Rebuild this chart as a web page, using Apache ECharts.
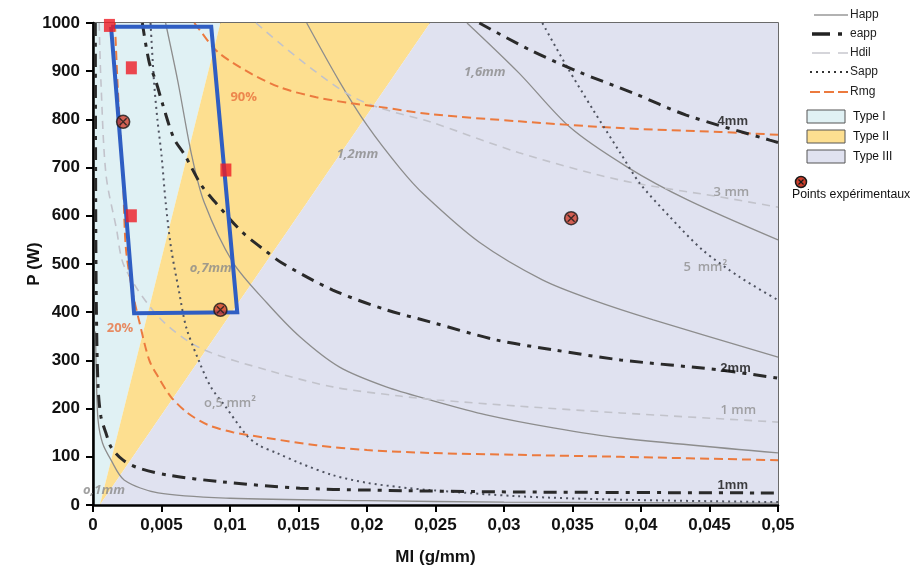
<!DOCTYPE html>
<html><head><meta charset="utf-8">
<script src="https://cdn.jsdelivr.net/npm/echarts@6/dist/echarts.min.js"></script>
<style>html,body{margin:0;padding:0;background:#fff}#c{width:914px;height:572px}</style>
</head><body><div id="c"></div>
<script>
// ---------- Data (Ml in g/mm, P in W) ----------
const regionTypeI   = [[0,0],[0,1000],[0.0093,1000],[0.0005,0]];
const regionTypeII  = [[0.0005,0],[0.0093,1000],[0.0246,1000]];
const regionTypeIII = [[0.0005,0],[0.0246,1000],[0.05,1000],[0.05,0]];

// Happ (solid gray)
const happ01 = [[0.00018,360],[0.00025,260],[0.00037,176],[0.0007,128],[0.00132,93],[0.00227,52],[0.00475,25],[0.01,14],[0.02,9],[0.03,6],[0.05,4]];
const happ07 = [[0.0053,1000],[0.0062,878],[0.0072,726],[0.0081,629],[0.0102,504],[0.0127,419],[0.0151,349],[0.018,286],[0.0214,245],[0.0246,218],[0.0287,187],[0.0336,160],[0.0385,139],[0.05,108]];
const happ12 = [[0.0156,1000],[0.018,878],[0.02,788],[0.0224,699],[0.0242,643],[0.0282,545],[0.0328,467],[0.0365,425],[0.0409,384],[0.05,307]];
const happ16 = [[0.0273,1000],[0.0311,896],[0.0348,784],[0.039,701],[0.0434,633],[0.05,550]];
// eapp (black dash-dot)
const eapp1 = [[0.00017,1000],[0.0002,600],[0.00025,400],[0.00037,245],[0.00058,183],[0.00095,149],[0.00132,120],[0.0022,93],[0.0033,77],[0.0055,62],[0.0094,48],[0.0151,35],[0.02,31],[0.0311,27],[0.05,25]];
const eapp2 = [[0.0036,1000],[0.0041,919],[0.0046,878],[0.0051,830],[0.0059,761],[0.0067,726],[0.0079,664],[0.0089,629],[0.0109,566],[0.0127,525],[0.0138,502],[0.0175,446],[0.0214,405],[0.0246,380],[0.0295,342],[0.0336,322],[0.0385,301],[0.0458,280],[0.05,263]];
const eapp4 = [[0.0282,1000],[0.0319,944],[0.0355,898],[0.0394,855],[0.0433,809],[0.0494,757],[0.05,752]];
// Hdil (light gray dashed)
const hdil1 = [[0.00045,1000],[0.00058,878],[0.00095,685],[0.0017,575],[0.0023,494],[0.0048,390],[0.0078,326],[0.0127,280],[0.0175,245],[0.0224,226],[0.0251,218],[0.0311,205],[0.0385,191],[0.05,172]];
const hdil3 = [[0.0119,1000],[0.0138,954],[0.0163,898],[0.0187,851],[0.0209,824],[0.0246,795],[0.0311,731],[0.0385,674],[0.0458,639],[0.05,618]];
// Sapp (dotted)
const sapp05 = [[0.0042,1000],[0.00445,880],[0.0047,800],[0.005,726],[0.0053,629],[0.0057,533],[0.0063,440],[0.0068,369],[0.0077,301],[0.0086,245],[0.0097,203],[0.0112,145],[0.0121,124],[0.0134,108],[0.0151,87],[0.0175,62],[0.02,46],[0.0224,37],[0.0246,31],[0.0311,18],[0.0385,11],[0.05,6]];
const sapp5 = [[0.0328,1000],[0.0346,909],[0.0365,820],[0.0385,730],[0.0399,668],[0.0421,598],[0.0445,529],[0.0472,473],[0.05,425]];
// Rmg (orange dashed)
const rmg20 = [[0.0016,1000],[0.0018,870],[0.00205,746],[0.0022,670],[0.0024,533],[0.0029,440],[0.0034,378],[0.0041,301],[0.00475,266],[0.0057,224],[0.0069,191],[0.0084,166],[0.0102,151],[0.0127,139],[0.0163,124],[0.02,114],[0.0246,108],[0.0311,104],[0.0385,100],[0.05,93]];
const rmg90 = [[0.0074,1000],[0.0078,985],[0.0091,940],[0.0116,894],[0.0138,865],[0.0163,846],[0.0187,834],[0.0209,826],[0.0246,811],[0.0311,796],[0.0385,782],[0.0458,774],[0.05,768]];

// Experimental points and samples
const expPoints = [[0.0022,795],[0.0093,405],[0.0349,595]];
const redSquares = [[0.0012,995],[0.0028,907],[0.0097,695],[0.0028,600]];
const blueBox = [[0.00132,992],[0.00863,992],[0.01053,400],[0.003,398],[0.00132,992]];

// Curve annotations
const labelsGrayItalic = [[0.0008,31,'o,1mm'],[0.0086,492,'o,7mm'],[0.0193,728,'1,2mm'],[0.0286,898,'1,6mm']];
const labelsGray = [[0.0466,649,'3 mm'],[0.0447,494,'5  mm²'],[0.0471,197,'1 mm'],[0.01,210,'o,5 mm²']];
const labelsBlack = [[0.0467,795,'4mm'],[0.0469,284,'2mm'],[0.0467,41,'1mm']];
const labelsOrange = [[0.011,846,'90%'],[0.00197,367,'20%']];

// ---------- Styles ----------
const C_I = '#e0f1f4', C_II = '#fddf90', C_III = '#e0e2f0';
const C_HAPP = '#8d8d8d', C_EAPP = '#2a2a2a', C_HDIL = '#c2c3cb', C_SAPP = '#4f5360', C_RMG = '#ec7a3e';

function region(data, color) {
  return {
    type: 'custom', z: 0, silent: true, clip: true, data: data,
    renderItem: function (params, api) {
      if (params.dataIndex !== 0) return null;
      const pts = data.map(p => api.coord(p));
      return { type: 'polygon', shape: { points: pts }, style: { fill: color } };
    }
  };
}
function curve(data, color, width, type, z) {
  return { type: 'line', data: data, smooth: 0.3, showSymbol: false, silent: true, z: z || 3,
    lineStyle: { color: color, width: width, type: type, cap: 'butt' } };
}
function labels(data, color, font) {
  return { type: 'scatter', data: data, symbolSize: 0, silent: true, z: 8,
    label: Object.assign({ show: true, position: 'inside', color: color, formatter: p => p.data[2] }, font) };
}

const chart = echarts.init(document.getElementById('c'), null, { renderer: 'canvas' });
const axisFont = { fontFamily: '"Liberation Sans", Arial, sans-serif', fontWeight: 'bold', fontSize: 17, color: '#111' };
const legendFont = '12px "Liberation Sans", Arial';

chart.setOption({
  animation: false,
  backgroundColor: '#fff',
  grid: { left: 93, right: 136, top: 23, bottom: 67, show: true, borderColor: '#3a3a3a', borderWidth: 1.5, outerBoundsMode: 'none' },
  xAxis: {
    type: 'value', min: 0, max: 0.05, interval: 0.005,
    name: 'Ml (g/mm)', nameLocation: 'middle', nameGap: 44, nameMoveOverlap: false,
    nameTextStyle: axisFont,
    axisLine: { show: true, onZero: false, lineStyle: { color: '#000', width: 2.5 } },
    axisTick: { show: true, inside: false, length: 7, lineStyle: { color: '#000', width: 2 } },
    axisLabel: Object.assign({ margin: 12, formatter: v => v === 0 ? '0' : String(parseFloat(v.toFixed(3))).replace('.', ',') }, axisFont),
    splitLine: { show: false }
  },
  yAxis: {
    type: 'value', min: 0, max: 1000, interval: 100,
    name: 'P (W)', nameLocation: 'middle', nameGap: 50, nameRotate: 90, nameMoveOverlap: false,
    nameTextStyle: axisFont,
    axisLine: { show: true, onZero: false, lineStyle: { color: '#000', width: 2.5 } },
    axisTick: { show: true, inside: false, length: 7, lineStyle: { color: '#000', width: 2 } },
    axisLabel: Object.assign({ margin: 13, formatter: v => String(v) }, axisFont),
    splitLine: { show: false }
  },
  series: [
    region(regionTypeI, C_I),
    region(regionTypeII, C_II),
    region(regionTypeIII, C_III),
    curve(happ01, C_HAPP, 1.3, 'solid'),
    curve(happ07, C_HAPP, 1.3, 'solid'),
    curve(happ12, C_HAPP, 1.3, 'solid'),
    curve(happ16, C_HAPP, 1.3, 'solid'),
    curve(hdil1, C_HDIL, 1.6, [8, 6]),
    curve(hdil3, C_HDIL, 1.6, [8, 6]),
    curve(rmg20, C_RMG, 2, [9, 5]),
    curve(rmg90, C_RMG, 2, [9, 5]),
    curve(sapp05, C_SAPP, 2, [2, 4]),
    curve(sapp5, C_SAPP, 2, [2, 4]),
    curve(eapp1, C_EAPP, 3, [13, 7, 4, 7], 4),
    curve(eapp2, C_EAPP, 3, [13, 7, 4, 7], 4),
    curve(eapp4, C_EAPP, 3, [13, 7, 4, 7], 4),
    { type: 'line', data: blueBox, smooth: false, showSymbol: false, silent: true, z: 5,
      lineStyle: { color: '#2f5ec3', width: 4, join: 'miter' } },
    { type: 'scatter', data: redSquares, symbol: 'rect', symbolSize: [11, 13], silent: true, z: 6,
      itemStyle: { color: '#ee1c24' } },
    { type: 'scatter', data: expPoints, symbol: 'circle', symbolSize: 13, silent: true, z: 6,
      itemStyle: { color: '#cf3f2c', borderColor: '#1a1a1a', borderWidth: 1.6 } },
    { type: 'scatter', data: expPoints, symbol: 'path://M0,0L10,10M10,0L0,10', symbolSize: 7, silent: true, z: 7,
      itemStyle: { color: 'none', borderColor: '#1a1a1a', borderWidth: 1.4 } },
    labels(labelsGrayItalic, '#8a8a8a', { fontFamily: '"Open Sans", sans-serif', fontStyle: 'italic', fontWeight: 'bold', fontSize: 13 }),
    labels(labelsGray, '#8f8f8f', { fontFamily: '"Open Sans", sans-serif', fontWeight: 600, fontSize: 13 }),
    labels(labelsBlack, '#111', { fontFamily: '"Liberation Sans", Arial, sans-serif', fontWeight: 'bold', fontSize: 13 }),
    labels(labelsOrange, '#e8703c', { fontFamily: '"Open Sans", sans-serif', fontWeight: 'bold', fontSize: 13 })
  ],
  graphic: [
    // legend lines
    { type: 'line', shape: { x1: 814, y1: 15, x2: 848, y2: 15 }, style: { stroke: '#999', lineWidth: 1.3 } },
    { type: 'line', shape: { x1: 812, y1: 34, x2: 848, y2: 34 }, style: { stroke: '#222', lineWidth: 3.5, lineDash: [18, 8, 4, 8] } },
    { type: 'line', shape: { x1: 812, y1: 53, x2: 848, y2: 53 }, style: { stroke: '#c8c8ce', lineWidth: 1.5, lineDash: [18, 8] } },
    { type: 'line', shape: { x1: 810, y1: 72, x2: 848, y2: 72 }, style: { stroke: '#333', lineWidth: 2, lineDash: [2, 4] } },
    { type: 'line', shape: { x1: 810, y1: 92, x2: 848, y2: 92 }, style: { stroke: '#ec7a3e', lineWidth: 2, lineDash: [10, 4] } },
    { type: 'text', x: 850, y: 15, style: { text: 'Happ', fill: '#222', font: legendFont, verticalAlign: 'middle' } },
    { type: 'text', x: 850, y: 34, style: { text: 'eapp', fill: '#222', font: legendFont, verticalAlign: 'middle' } },
    { type: 'text', x: 850, y: 53, style: { text: 'Hdil', fill: '#222', font: legendFont, verticalAlign: 'middle' } },
    { type: 'text', x: 850, y: 72, style: { text: 'Sapp', fill: '#222', font: legendFont, verticalAlign: 'middle' } },
    { type: 'text', x: 850, y: 92, style: { text: 'Rmg', fill: '#222', font: legendFont, verticalAlign: 'middle' } },
    // legend boxes
    { type: 'rect', shape: { x: 807, y: 110, width: 38, height: 13 }, style: { fill: C_I, stroke: '#555', lineWidth: 1 } },
    { type: 'rect', shape: { x: 807, y: 130, width: 38, height: 13 }, style: { fill: C_II, stroke: '#555', lineWidth: 1 } },
    { type: 'rect', shape: { x: 807, y: 150, width: 38, height: 13 }, style: { fill: C_III, stroke: '#555', lineWidth: 1 } },
    { type: 'text', x: 853, y: 117, style: { text: 'Type I', fill: '#111', font: legendFont, verticalAlign: 'middle' } },
    { type: 'text', x: 853, y: 137, style: { text: 'Type II', fill: '#111', font: legendFont, verticalAlign: 'middle' } },
    { type: 'text', x: 853, y: 157, style: { text: 'Type III', fill: '#111', font: legendFont, verticalAlign: 'middle' } },
    // experimental point legend
    { type: 'circle', shape: { cx: 801, cy: 182, r: 5.5 }, style: { fill: '#cf3f2c', stroke: '#1a1a1a', lineWidth: 1.5 } },
    { type: 'line', shape: { x1: 798.5, y1: 179.5, x2: 803.5, y2: 184.5 }, style: { stroke: '#1a1a1a', lineWidth: 1.3 } },
    { type: 'line', shape: { x1: 803.5, y1: 179.5, x2: 798.5, y2: 184.5 }, style: { stroke: '#1a1a1a', lineWidth: 1.3 } },
    { type: 'text', x: 792, y: 195, style: { text: 'Points expérimentaux', fill: '#111', font: '12.3px "Liberation Sans", Arial', verticalAlign: 'middle' } }
  ]
});
</script></body></html>
